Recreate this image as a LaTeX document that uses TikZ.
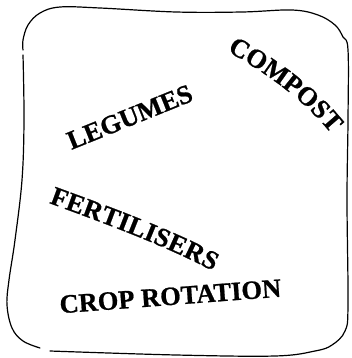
\documentclass[tikz,border=0pt]{standalone}
\usepackage{fontspec}
\setmainfont{Liberation Serif}
\newfontfamily\heavyfont{Liberation Serif}[UprightFont=* Bold, FakeBold=0.8]
\usetikzlibrary{decorations.text}
\newcommand\wordfont{\fontsize{26.5}{30}\selectfont\heavyfont}

\begin{document}
\begin{tikzpicture}[
    x=1pt, y=-1pt,
    word/.style={font=\wordfont, inner sep=0pt, anchor=base},
    frame/.style={line width=1.2pt, line cap=round, line join=round},
    bent/.style={decorate, decoration={text along path, text align={fit to path}, text={|\wordfont|#1}}}
  ]
    \useasboundingbox (0,0) rectangle (351,358);

    % Hand drawn frame: top, right and bottom in one stroke
    \draw[frame] plot[smooth, tension=0.6] coordinates {
      (23,50) (23,40) (28,25) (40,13) (60,7) (100,8) (176,12) (242,12)
      (292,10) (318,15) (335,25) (343,37) (348,50) (348,120) (347,200)
      (348,305) (345,331) (332,345) (315,351) (275,356) (176,355) (50,351)};
    % left side and lower left corner
    \draw[frame] plot[smooth, tension=0.6] coordinates {
      (23,55) (24,120) (22,180) (15,240) (9,280) (7,305) (12,328)
      (23,341) (40,348)};

    % Words
    \node[word, rotate=22] (legumes) at (133,125) {LEGUMES};
    \node[word, rotate=4.3] (croprot) at (171,305) {CROP ROTATION};
    \path[bent=COMPOST] (227,51) .. controls (262,71) and (300,96) .. (329,131);
    \path[bent=FERTILISERS] (49,203) .. controls (95,220) and (160,243) .. (213,271);
  \end{tikzpicture}
\end{document}
